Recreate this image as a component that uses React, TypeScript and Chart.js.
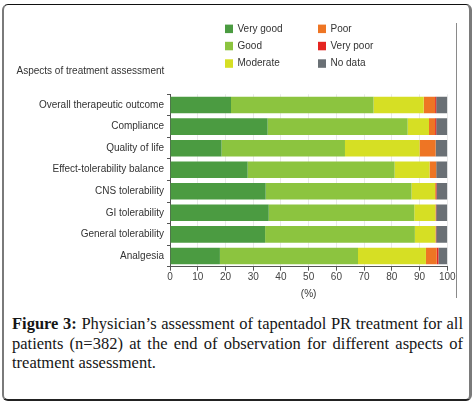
import React, { useEffect, useRef } from "react";
import { Chart, registerables } from "chart.js";

Chart.register(...registerables);

const categories = [
  "Overall therapeutic outcome",
  "Compliance",
  "Quality of life",
  "Effect-tolerability balance",
  "CNS tolerability",
  "GI tolerability",
  "General tolerability",
  "Analgesia",
];
const veryGood = [22, 35.2, 18.6, 28, 34.5, 35.6, 34.3, 18];
const good = [51.4, 50.5, 44.5, 53, 52.6, 52.5, 54, 49.8];
const moderate = [18.1, 7.7, 26.9, 12.6, 8.5, 7.6, 7.4, 24.5];
const poor = [4.1, 2.2, 5.8, 2.4, 0.3, 0.2, 0.2, 3.9];
const veryPoor = [0.4, 0.4, 0, 0, 0.2, 0.1, 0.1, 0.6];
const noData = [4.0, 4.0, 4.2, 4.0, 3.9, 4.0, 4.0, 3.2];

const seriesLabels = ["Very good", "Good", "Moderate", "Poor", "Very poor", "No data"];
const seriesColors = ["#4b9b41", "#8cc43f", "#d6df24", "#ee7524", "#e52521", "#6a7075"];
const xTicks = [0, 10, 20, 30, 40, 50, 60, 70, 80, 90, 100];
const axisTitle = "Aspects of treatment assessment";
const xTitle = "(%)";

const FONT = '"Liberation Sans", Arial, Helvetica, sans-serif';

const overlayPlugin = {
  id: "overlay",
  afterDraw(chart: any) {
    const ctx = chart.ctx;
    ctx.save();
    ctx.font = `10px ${FONT}`;
    ctx.fillStyle = "#333";
    ctx.textBaseline = "middle";
    ctx.textAlign = "left";
    ctx.fillText(axisTitle, 16.5, 71);
    const colX = [225, 318];
    const rowY = [28.8, 46, 63.5];
    chart.data.datasets.forEach((ds: any, i: number) => {
      const c = Math.floor(i / 3);
      const r = i % 3;
      ctx.fillStyle = ds.backgroundColor;
      ctx.fillRect(colX[c], rowY[r] - 4.2, 8, 8.5);
      ctx.fillStyle = "#333";
      ctx.fillText(ds.label, colX[c] + 12.5, rowY[r]);
    });
    ctx.restore();
  },
};

export default function App() {
  const ref = useRef<HTMLCanvasElement | null>(null);
  useEffect(() => {
    if (!ref.current) return;
    const series = [veryGood, good, moderate, poor, veryPoor, noData];
    const chart = new Chart(ref.current, {
      type: "bar",
      data: {
        labels: categories,
        datasets: series.map((d, i) => ({
          label: seriesLabels[i],
          data: d,
          backgroundColor: seriesColors[i],
          borderWidth: 0,
          barPercentage: 0.77,
          categoryPercentage: 1,
        })),
      },
      options: {
        indexAxis: "y",
        animation: false,
        responsive: false,
        layout: { padding: { left: 0, right: 27.7, top: 94.3, bottom: 0 } },
        plugins: {
          legend: { display: false },
          tooltip: { enabled: false },
          title: { display: false },
        },
        scales: {
          x: {
            stacked: true,
            min: 0,
            max: 100,
            afterBuildTicks: (scale: any) => {
              scale.ticks = xTicks.map((v) => ({ value: v }));
            },
            afterFit: (scale: any) => {
              scale.height = 33.3;
            },
            grid: {
              display: true,
              color: "#e9e9e9",
              tickColor: "#555",
              tickLength: 4,
              drawOnChartArea: true,
            },
            border: { display: true, color: "#555", width: 1 },
            ticks: {
              padding: 1,
              color: "#444",
              font: { family: FONT, size: 10 },
              maxRotation: 0,
            },
            title: {
              display: true,
              text: xTitle,
              color: "#333",
              font: { family: FONT, size: 10 },
              padding: { top: 0, bottom: 0 },
            },
          },
          y: {
            stacked: true,
            afterFit: (scale: any) => {
              scale.width = 170;
            },
            grid: {
              display: true,
              drawOnChartArea: false,
              tickColor: "#555",
              tickLength: 3,
              offset: true,
            },
            border: { display: true, color: "#555", width: 1 },
            ticks: {
              padding: 3,
              color: "#333",
              font: { family: FONT, size: 10 },
            },
          },
        },
      },
      plugins: [overlayPlugin],
    } as any);
    return () => chart.destroy();
  }, []);

  return (
    <div style={{ position: "absolute", left: 0, top: 0, width: 475, height: 405, background: "#fff" }}>
      <div
        style={{
          position: "absolute",
          left: 2,
          top: 4,
          width: 470,
          height: 397,
          boxSizing: "border-box",
          borderTop: "1px solid #111",
          borderLeft: "2px solid #7a7a7a",
          borderRight: "3px solid #7a7a7a",
          borderBottom: "2px solid #222",
          borderRadius: 6,
        }}
      />
      <canvas
        ref={ref}
        width={475}
        height={300}
        style={{ position: "absolute", left: 0, top: 0, width: 475, height: 300 }}
      />
      <div style={{ position: "absolute", left: 456, top: 23, width: 1, height: 275, background: "#8a8a8a" }} />
      <div
        style={{
          position: "absolute",
          left: 12,
          top: 314,
          width: 451,
          fontFamily: '"Liberation Serif", "Times New Roman", serif',
          fontSize: 16.5,
          lineHeight: "19.6px",
          color: "#161616",
        }}
      >
        <div style={{ textAlign: "justify", textAlignLast: "justify" as any, whiteSpace: "nowrap" }}>
          <b>Figure 3:</b> Physician’s assessment of tapentadol PR treatment for all
        </div>
        <div style={{ textAlign: "justify", textAlignLast: "justify" as any }}>
          patients (n=382) at the end of observation for different aspects of
        </div>
        <div>treatment assessment.</div>
      </div>
    </div>
  );
}
